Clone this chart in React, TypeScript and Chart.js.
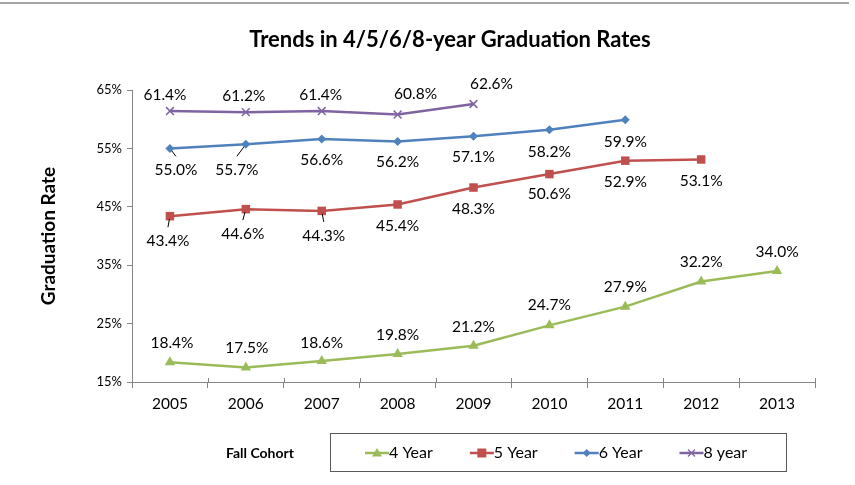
import React, { useEffect, useRef } from 'react';
import { Chart, registerables } from 'chart.js';

Chart.register(...registerables);

const FONT = 'Lato, "Open Sans", "Liberation Sans", sans-serif';

const categories = ['2005', '2006', '2007', '2008', '2009', '2010', '2011', '2012', '2013'];
const fourYear = [18.4, 17.5, 18.6, 19.8, 21.2, 24.7, 27.9, 32.2, 34.0];
const fiveYear = [43.4, 44.6, 44.3, 45.4, 48.3, 50.6, 52.9, 53.1, null];
const sixYear = [55.0, 55.7, 56.6, 56.2, 57.1, 58.2, 59.9, null, null];
const eightYear = [61.4, 61.2, 61.4, 60.8, 62.6, null, null, null, null];
const yTicks = [15, 25, 35, 45, 55, 65];
const seriesNames = ['4 Year', '5 Year', '6 Year', '8 year'];

// label placement (layout only): [dx, dy, leader]
const fourYearLabelPos = [[2, -19, 0], [1, -19, 0], [0, -18, 0], [0, -19, 0], [0, -19, 0], [0, -20, 0], [0, -20, 0], [0, -20, 0], [0, -19, 0]];
const fiveYearLabelPos = [[-2, 25, 1], [-3, 25, 1], [2, 25, 1], [0, 22, 0], [0, 21, 0], [0, 20, 0], [0, 21, 0], [0, 22, 0]];
const sixYearLabelPos = [[6, 22, 1], [-9, 26, 1], [0, 21, 0], [0, 21, 0], [0, 21, 0], [0, 22, 0], [0, 22, 0]];
const eightYearLabelPos = [[-5, -16, 0], [-2, -16, 0], [-1, -16, 0], [18, -21, 0], [18, -20, 0]];

const COLORS = ['#9BBB59', '#C0504D', '#4F81BD', '#8064A2'];
const AXIS = '#868686';

function drawMarker(ctx: CanvasRenderingContext2D, kind: number, x: number, y: number, color: string) {
  ctx.save();
  ctx.fillStyle = color;
  ctx.strokeStyle = color;
  ctx.beginPath();
  if (kind === 0) {
    ctx.moveTo(x, y - 5);
    ctx.lineTo(x + 5, y + 3.5);
    ctx.lineTo(x - 5, y + 3.5);
    ctx.closePath();
    ctx.fill();
  } else if (kind === 1) {
    ctx.rect(x - 4.5, y - 4.5, 9, 9);
    ctx.fill();
  } else if (kind === 2) {
    ctx.moveTo(x, y - 4);
    ctx.lineTo(x + 4, y);
    ctx.lineTo(x, y + 4);
    ctx.lineTo(x - 4, y);
    ctx.closePath();
    ctx.fill();
  } else {
    ctx.lineWidth = 1.3;
    ctx.moveTo(x - 3.5, y - 3.5);
    ctx.lineTo(x + 3.5, y + 3.5);
    ctx.moveTo(x + 3.5, y - 3.5);
    ctx.lineTo(x - 3.5, y + 3.5);
    ctx.stroke();
  }
  ctx.restore();
}

const decorPlugin = {
  id: 'decor',
  afterDraw(chart: any) {
    const ctx: CanvasRenderingContext2D = chart.ctx;
    const area = chart.chartArea;
    ctx.save();

    // top frame line
    ctx.strokeStyle = '#a6a6a6';
    ctx.lineWidth = 2;
    ctx.beginPath();
    ctx.moveTo(0, 3);
    ctx.lineTo(849, 3);
    ctx.stroke();

    // title
    ctx.fillStyle = '#000';
    ctx.font = `bold 22px ${FONT}`;
    ctx.textAlign = 'center';
    ctx.textBaseline = 'middle';
    ctx.fillText('Trends in 4/5/6/8-year Graduation Rates', 450, 40);

    // y title
    ctx.save();
    ctx.translate(49, (area.top + area.bottom) / 2);
    ctx.rotate(-Math.PI / 2);
    ctx.font = `bold 19px ${FONT}`;
    ctx.fillText('Graduation Rate', 0, 0);
    ctx.restore();

    // small upward stubs of x tick marks
    ctx.strokeStyle = AXIS;
    ctx.lineWidth = 1;
    const step = (area.right - area.left) / categories.length;
    for (let i = 0; i <= categories.length; i++) {
      const x = Math.round(area.left + i * step) + 0.5;
      ctx.beginPath();
      ctx.moveTo(x, area.bottom - 4);
      ctx.lineTo(x, area.bottom);
      ctx.stroke();
    }

    // data labels
    const positions = [fourYearLabelPos, fiveYearLabelPos, sixYearLabelPos, eightYearLabelPos];
    ctx.font = `15.5px ${FONT}`;
    ctx.textAlign = 'center';
    ctx.textBaseline = 'middle';
    chart.data.datasets.forEach((ds: any, i: number) => {
      const meta = chart.getDatasetMeta(i);
      ds.data.forEach((v: number | null, j: number) => {
        if (v === null || v === undefined) return;
        const pt = meta.data[j];
        const pos = positions[i][j] || [0, -18, 0];
        const lx = pt.x + pos[0];
        const ly = pt.y + pos[1];
        if (pos[2]) {
          const ex = lx;
          const ey = ly - 14;
          const dx = ex - pt.x;
          const dy = ey - pt.y;
          const len = Math.hypot(dx, dy);
          ctx.strokeStyle = '#000';
          ctx.lineWidth = 1;
          ctx.beginPath();
          ctx.moveTo(pt.x + (dx / len) * 3, pt.y + (dy / len) * 3);
          ctx.lineTo(ex, ey);
          ctx.stroke();
        }
        ctx.fillStyle = '#000';
        ctx.fillText(v.toFixed(1) + '%', lx, ly);
      });
    });

    // legend
    ctx.font = `bold 14px ${FONT}`;
    ctx.textAlign = 'center';
    ctx.fillText('Fall Cohort', 260, 453);

    ctx.strokeStyle = '#595959';
    ctx.lineWidth = 1;
    ctx.strokeRect(330.5, 433.5, 456, 38);

    ctx.font = `16px ${FONT}`;
    ctx.textAlign = 'left';
    let x = 365;
    seriesNames.forEach((name, i) => {
      ctx.strokeStyle = COLORS[i];
      ctx.lineWidth = 2.5;
      ctx.beginPath();
      ctx.moveTo(x, 453);
      ctx.lineTo(x + 24, 453);
      ctx.stroke();
      drawMarker(ctx, i, x + 12, 453, COLORS[i]);
      ctx.fillStyle = '#000';
      ctx.fillText(name, x + 24, 453);
      x += 24 + ctx.measureText(name).width + 37;
    });

    ctx.restore();
  },
};

export default function App() {
  const ref = useRef<HTMLCanvasElement | null>(null);

  useEffect(() => {
    if (!ref.current) return;
    const chart = new Chart(ref.current, {
      type: 'line',
      data: {
        labels: categories,
        datasets: [
          {
            label: seriesNames[0], data: fourYear, borderColor: COLORS[0], backgroundColor: COLORS[0],
            borderWidth: 2.5, pointStyle: 'triangle', pointRadius: 6, pointBorderWidth: 0, tension: 0,
          },
          {
            label: seriesNames[1], data: fiveYear, borderColor: COLORS[1], backgroundColor: COLORS[1],
            borderWidth: 2.5, pointStyle: 'rect', pointRadius: 6, pointBorderWidth: 0, tension: 0,
          },
          {
            label: seriesNames[2], data: sixYear, borderColor: COLORS[2], backgroundColor: COLORS[2],
            borderWidth: 2.5, pointStyle: 'rectRot', pointRadius: 4.5, pointBorderWidth: 0, tension: 0,
          },
          {
            label: seriesNames[3], data: eightYear, borderColor: COLORS[3], backgroundColor: COLORS[3],
            borderWidth: 2.5, pointStyle: 'crossRot', pointRadius: 5.5, pointBorderWidth: 1.5, tension: 0,
          },
        ],
      },
      options: {
        responsive: false,
        animation: false,
        events: [],
        layout: { padding: { left: 0, right: 40, top: 90, bottom: 53 } },
        plugins: {
          legend: { display: false },
          title: { display: false },
          tooltip: { enabled: false },
        },
        scales: {
          x: {
            type: 'category',
            offset: true,
            grid: { offset: true, drawOnChartArea: false, drawTicks: true, tickLength: 6, color: AXIS, lineWidth: 1 },
            border: { display: true, color: AXIS, width: 1 },
            ticks: { font: { family: FONT, size: 15.5 }, color: '#000', padding: 7, maxRotation: 0, autoSkip: false },
            afterFit: (s: any) => { s.height = 50; },
          },
          y: {
            min: 15,
            max: 65,
            afterBuildTicks: (s: any) => { s.ticks = yTicks.map((v) => ({ value: v })); },
            grid: { drawOnChartArea: false, drawTicks: true, tickLength: 5, color: AXIS, lineWidth: 1 },
            border: { display: true, color: AXIS, width: 1 },
            ticks: { font: { family: FONT, size: 13 }, color: '#000', padding: 5, callback: (v: any) => v + '%' },
            afterFit: (s: any) => { s.width = 132; },
          },
        },
      },
      plugins: [decorPlugin],
    });
    return () => chart.destroy();
  }, []);

  return (
    <div style={{ position: 'fixed', left: 0, top: 0, width: 855, height: 485, background: '#fff' }}>
      <canvas ref={ref} width={855} height={485} />
    </div>
  );
}
